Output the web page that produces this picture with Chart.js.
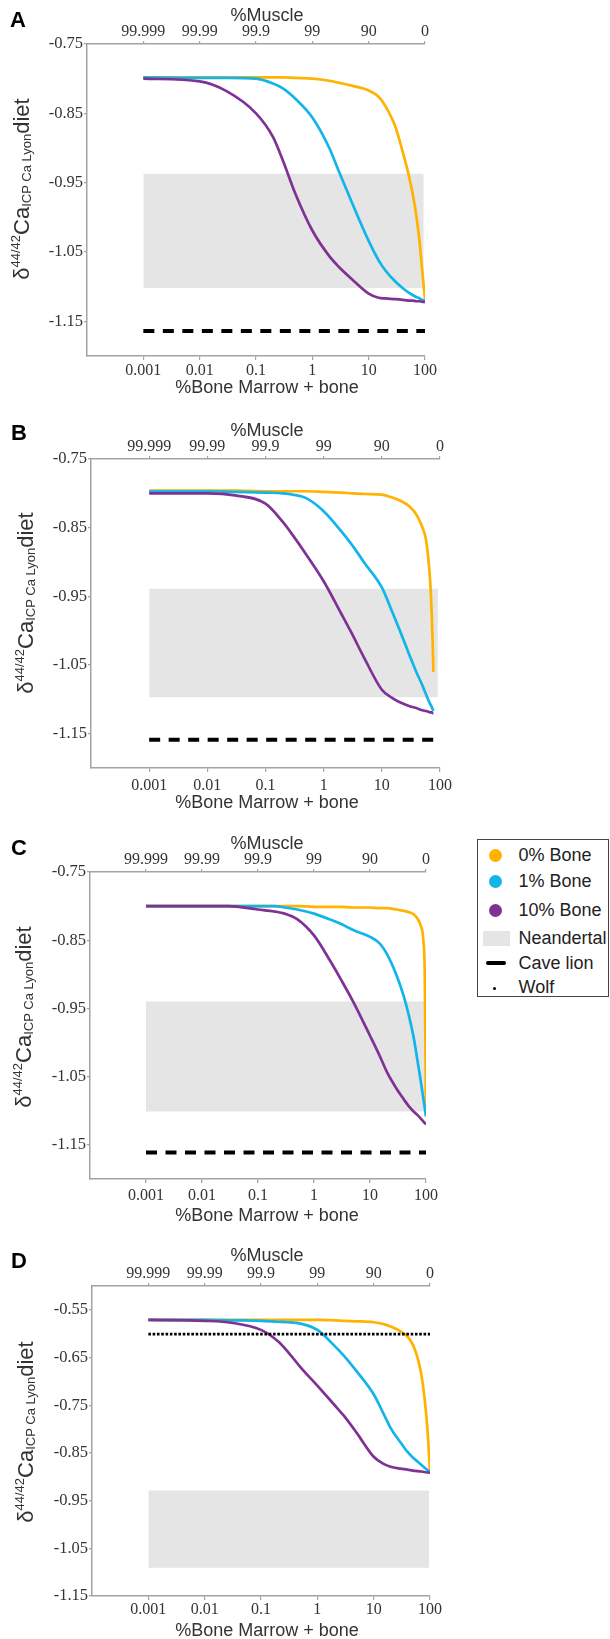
<!DOCTYPE html>
<html><head><meta charset="utf-8">
<script src="https://cdn.jsdelivr.net/npm/chart.js@4.4.1/dist/chart.umd.min.js"></script>
<style>
html,body{margin:0;padding:0;background:#fff;}
body{width:610px;height:1639px;position:relative;overflow:hidden;font-family:"Liberation Sans",Arial,sans-serif;}
canvas{position:absolute;left:0;}
.letter{position:absolute;font-weight:bold;font-size:22px;line-height:22px;color:#000;}
.ttl{position:absolute;font-size:18px;line-height:18px;color:#333;white-space:nowrap;transform:translateX(-50%);}
.ytl{position:absolute;left:0;top:0;font-size:22px;line-height:22px;color:#333;white-space:nowrap;}
.ytl sup{font-size:13px;vertical-align:9px;line-height:0;}
.ytl sub{font-size:13px;vertical-align:-2px;line-height:0;}
#legend{position:absolute;left:477px;top:839px;width:130px;height:156px;border:1.5px solid #444;}
#legend .t{position:absolute;left:40.5px;font-size:18px;line-height:18px;color:#222;white-space:nowrap;}
#legend .c{position:absolute;width:13px;height:13px;border-radius:50%;left:10.5px;}
</style></head>
<body>
<canvas id="cA" style="top:0px"></canvas>
<canvas id="cB" style="top:400px"></canvas>
<canvas id="cC" style="top:810px"></canvas>
<canvas id="cD" style="top:1220px"></canvas>

<div class="letter" style="left:10px;top:9px">A</div>
<div class="letter" style="left:11px;top:422px">B</div>
<div class="letter" style="left:11px;top:837px">C</div>
<div class="letter" style="left:11px;top:1250px">D</div>

<div class="ttl" style="left:267px;top:6px">%Muscle</div>
<div class="ttl" style="left:267px;top:421px">%Muscle</div>
<div class="ttl" style="left:267px;top:834px">%Muscle</div>
<div class="ttl" style="left:267px;top:1246px">%Muscle</div>

<div class="ttl" style="left:267px;top:378px">%Bone Marrow + bone</div>
<div class="ttl" style="left:267px;top:793px">%Bone Marrow + bone</div>
<div class="ttl" style="left:267px;top:1206px">%Bone Marrow + bone</div>
<div class="ttl" style="left:267px;top:1621px">%Bone Marrow + bone</div>

<div class="ytl" data-cx="21" data-cy="189">δ<sup>44/42</sup>Ca<sub>ICP Ca Lyon</sub>diet</div>
<div class="ytl" data-cx="25" data-cy="603">δ<sup>44/42</sup>Ca<sub>ICP Ca Lyon</sub>diet</div>
<div class="ytl" data-cx="23" data-cy="1017">δ<sup>44/42</sup>Ca<sub>ICP Ca Lyon</sub>diet</div>
<div class="ytl" data-cx="25" data-cy="1432">δ<sup>44/42</sup>Ca<sub>ICP Ca Lyon</sub>diet</div>

<div id="legend">
  <div class="c" style="top:9px;background:#FFB200"></div><div class="t" style="top:5.7px">0% Bone</div>
  <div class="c" style="top:35px;background:#12B5EA"></div><div class="t" style="top:32.4px">1% Bone</div>
  <div class="c" style="top:63.5px;background:#7F3194"></div><div class="t" style="top:60.7px">10% Bone</div>
  <div style="position:absolute;left:4.8px;top:91.2px;width:27.4px;height:15px;background:#E5E5E5"></div><div class="t" style="top:89px">Neandertal</div>
  <div style="position:absolute;left:8.2px;top:120.5px;width:20px;height:4.5px;border-radius:2.2px;background:#000"></div><div class="t" style="top:114px">Cave lion</div>
  <div style="position:absolute;left:15.2px;top:147px;width:3px;height:3px;border-radius:50%;background:#000"></div><div class="t" style="top:137.5px">Wolf</div>
</div>

<script>
// ---------- tick labels ----------
const xTickLabels = ['0.001','0.01','0.1','1','10','100'];
const muscleTickLabels = ['99.999','99.99','99.9','99','90','0'];
const yTickLabelsABC = ['-0.75','-0.85','-0.95','-1.05','-1.15'];
const yTickLabelsD = ['-0.55','-0.65','-0.75','-0.85','-0.95','-1.05','-1.15'];
const seriesNames = ['0% Bone','1% Bone','10% Bone'];

// ---------- %Bone marrow + bone (x) sample points ----------
const boneGrid  = [0.001,0.01,0.03,0.1,0.2,0.3,0.5,1,2,3,5,10,15,20,30,40,50,60,70,80,90,95,100];
const boneGridB = [0.001,0.01,0.03,0.1,0.2,0.3,0.5,1,2,3,5,10,15,20,30,40,50,57,63,68,72,75,77];

// ---------- Panel A ----------
const A_bone0  = [-0.798,-0.798,-0.798,-0.798,-0.798,-0.798,-0.799,-0.800,-0.803,-0.806,-0.810,-0.817,-0.826,-0.840,-0.870,-0.905,-0.935,-0.965,-0.997,-1.035,-1.080,-1.100,-1.118];
const A_bone1  = [-0.798,-0.799,-0.799,-0.800,-0.807,-0.814,-0.829,-0.856,-0.900,-0.935,-0.978,-1.034,-1.062,-1.077,-1.093,-1.102,-1.108,-1.112,-1.115,-1.117,-1.119,-1.120,-1.120];
const A_bone10 = [-0.800,-0.804,-0.818,-0.850,-0.884,-0.918,-0.966,-1.019,-1.056,-1.072,-1.089,-1.110,-1.116,-1.117,-1.118,-1.119,-1.120,-1.120,-1.121,-1.121,-1.122,-1.122,-1.122];
// ---------- Panel B ----------
const B_bone0  = [-0.796,-0.796,-0.796,-0.797,-0.797,-0.797,-0.797,-0.798,-0.799,-0.800,-0.801,-0.802,-0.806,-0.810,-0.819,-0.832,-0.850,-0.866,-0.895,-0.930,-0.975,-1.020,-1.060];
const B_bone1  = [-0.797,-0.797,-0.798,-0.799,-0.800,-0.802,-0.807,-0.826,-0.855,-0.874,-0.901,-0.937,-0.972,-0.998,-1.036,-1.062,-1.080,-1.092,-1.101,-1.107,-1.111,-1.115,-1.117];
const B_bone10 = [-0.800,-0.800,-0.803,-0.815,-0.842,-0.862,-0.889,-0.928,-0.975,-1.003,-1.040,-1.086,-1.098,-1.104,-1.110,-1.113,-1.116,-1.117,-1.118,-1.119,-1.119,-1.120,-1.120];
// ---------- Panel C ----------
const C_bone0  = [-0.800,-0.800,-0.800,-0.800,-0.800,-0.800,-0.800,-0.801,-0.801,-0.801,-0.802,-0.802,-0.803,-0.803,-0.805,-0.807,-0.809,-0.812,-0.818,-0.828,-0.852,-0.900,-1.108];
const C_bone1  = [-0.800,-0.800,-0.800,-0.800,-0.800,-0.802,-0.805,-0.811,-0.820,-0.826,-0.835,-0.845,-0.855,-0.870,-0.902,-0.932,-0.962,-0.992,-1.025,-1.055,-1.083,-1.096,-1.108];
const C_bone10 = [-0.800,-0.800,-0.800,-0.805,-0.808,-0.811,-0.819,-0.843,-0.882,-0.907,-0.940,-0.990,-1.020,-1.043,-1.068,-1.083,-1.094,-1.101,-1.106,-1.111,-1.116,-1.118,-1.120];
// ---------- Panel D ----------
const D_bone0  = [-0.571,-0.571,-0.571,-0.571,-0.571,-0.571,-0.571,-0.571,-0.572,-0.573,-0.574,-0.576,-0.580,-0.585,-0.595,-0.606,-0.624,-0.650,-0.685,-0.735,-0.800,-0.845,-0.890];
const D_bone1  = [-0.571,-0.571,-0.572,-0.573,-0.575,-0.576,-0.579,-0.592,-0.625,-0.647,-0.679,-0.727,-0.768,-0.798,-0.828,-0.848,-0.860,-0.868,-0.875,-0.881,-0.886,-0.888,-0.891];
const D_bone10 = [-0.571,-0.573,-0.577,-0.592,-0.616,-0.638,-0.670,-0.709,-0.749,-0.773,-0.808,-0.858,-0.873,-0.879,-0.883,-0.885,-0.887,-0.888,-0.889,-0.890,-0.891,-0.891,-0.892];

// ---------- reference ranges / lines (panels A,B,C,D) ----------
const neandertalHigh = [-0.937,-0.939,-0.940,-0.929];
const neandertalLow  = [-1.102,-1.097,-1.101,-1.091];
const neandertalEnd  = [95, 92, 98, 96];
const caveLion = [-1.164,-1.159,-1.161,null];
const wolf     = [null,null,null,-0.601];

const COL0 = '#FFB200', COL1 = '#12B5EA', COL10 = '#7F3194';
const AXIS = '#a3a3a3', TXT = '#333';
const serif = '"Liberation Serif","Times New Roman",serif';
const xFont = {family:serif, size:16};
const yFont = {family:serif, size:16.5};

const panels = [
  {id:'cA', w:445, h:400, L:87, R:20, T:44, B:44, ymin:-1.2, ymax:-0.75, yl:yTickLabelsABC, xpad:1, grid:boneGrid,  s:[A_bone0,A_bone1,A_bone10]},
  {id:'cB', w:460, h:410, L:91, R:20, T:59, B:42, ymin:-1.2, ymax:-0.75, yl:yTickLabelsABC, xpad:4, grid:boneGridB, s:[B_bone0,B_bone1,B_bone10]},
  {id:'cC', w:446, h:410, L:90, R:20, T:62, B:41, ymin:-1.2, ymax:-0.75, yl:yTickLabelsABC, xpad:3, grid:boneGrid,  s:[C_bone0,C_bone1,C_bone10]},
  {id:'cD', w:450, h:419, L:92, R:20, T:66, B:43, ymin:-1.15, ymax:-0.5, yl:yTickLabelsD,  xpad:0.5, grid:boneGrid, s:[D_bone0,D_bone1,D_bone10]},
];

const pts = (xs, ys) => xs.map((x,i) => ({x:x, y:ys[i]}));
const xVals = xTickLabels.map(Number);

panels.forEach((p, k) => {
  const cv = document.getElementById(p.id);
  cv.width = p.w; cv.height = p.h;
  cv.style.width = p.w + 'px'; cv.style.height = p.h + 'px';
  const cols = [COL0, COL1, COL10];
  const orders = [2, 1, 0];
  const ds = p.s.map((ys, i) => ({
    label: seriesNames[i], data: pts(p.grid, ys), borderColor: cols[i], borderWidth: 2.7,
    pointRadius: 0, fill: false, cubicInterpolationMode: 'monotone', order: orders[i]
  }));
  ds.push({label:'Neandertal', data:[{x:0.001,y:neandertalHigh[k]},{x:neandertalEnd[k],y:neandertalHigh[k]}],
    borderWidth:0, borderColor:'rgba(0,0,0,0)', backgroundColor:'#E5E5E5', pointRadius:0,
    fill:{value:neandertalLow[k]}, order:10});
  if (caveLion[k] !== null) {
    ds.push({label:'Cave lion', data:[{x:0.001,y:caveLion[k]},{x:100,y:caveLion[k]}], borderColor:'#000',
      borderWidth:4, borderDash:[11,8.5], borderCapStyle:'butt', pointRadius:0, fill:false, order:5});
  }
  if (wolf[k] !== null) {
    ds.push({label:'Wolf', data:[{x:0.001,y:wolf[k]},{x:100,y:wolf[k]}], borderColor:'#000',
      borderWidth:2.6, borderDash:[2.6,1.7], borderCapStyle:'butt', pointRadius:0, fill:false, order:-1});
  }
  const yVals = p.yl.map(Number);
  const xAxis = (pos, labels, pad, height) => ({
    type:'logarithmic', position:pos, min:0.0001, max:100,
    afterBuildTicks: s => { s.ticks = xVals.map(v => ({value:v})); },
    afterFit: s => { s.height = height; },
    ticks:{callback:(v,i) => labels[i], font:xFont, color:TXT, padding:pad, autoSkip:false, maxRotation:0, minRotation:0},
    grid:{drawOnChartArea:false, drawTicks:true, tickLength: pos==='top'?3:4, color:AXIS, lineWidth:1.2},
    border:{display:true, color:AXIS, width:1.5}
  });
  new Chart(cv, {
    type:'line',
    data:{datasets: ds},
    options:{
      responsive:false, animation:false, events:[], devicePixelRatio:1,
      layout:{padding:{left:0, right:p.R, top:0, bottom:0}, autoPadding:false},
      plugins:{legend:{display:false}, tooltip:{enabled:false}, title:{display:false}},
      scales:{
        x: xAxis('bottom', xTickLabels, p.xpad, p.B),
        x2: xAxis('top', muscleTickLabels, 0, p.T),
        y: {
          type:'linear', position:'left', min:p.ymin, max:p.ymax,
          afterBuildTicks: s => { s.ticks = yVals.map(v => ({value:v})); },
          afterFit: s => { s.width = p.L; },
          ticks:{callback:(v,i) => p.yl[i], font:yFont, color:TXT, padding:1, autoSkip:false},
          grid:{drawOnChartArea:false, drawTicks:true, tickLength:3, color:AXIS, lineWidth:1.2},
          border:{display:true, color:AXIS, width:1.5}
        }
      }
    }
  });
});

// position rotated y-axis titles
document.querySelectorAll('.ytl').forEach(el => {
  const w = el.offsetWidth, h = el.offsetHeight;
  const cx = +el.dataset.cx, cy = +el.dataset.cy;
  el.style.left = (cx - w/2) + 'px';
  el.style.top = (cy - h/2) + 'px';
  el.style.transform = 'rotate(-90deg)';
});
</script>
</body></html>
